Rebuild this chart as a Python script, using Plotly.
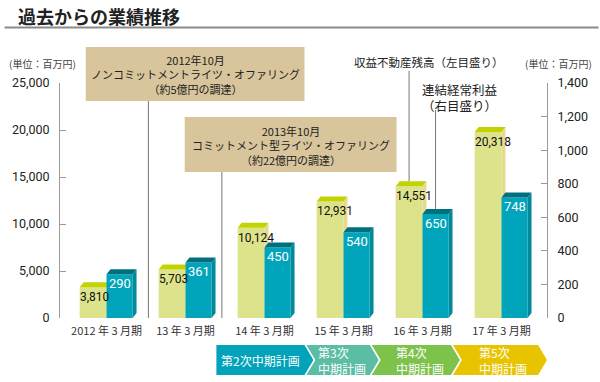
import plotly.graph_objects as go

# ---------------- data ----------------
categories = ["2012 年 3 月期", "13 年 3 月期", "14 年 3 月期", "15 年 3 月期", "16 年 3 月期", "17 年 3 月期"]
real_estate = [3810, 5703, 10124, 12931, 14551, 20318]      # 収益不動産残高 (left axis)
profit = [290, 361, 450, 540, 650, 748]                      # 連結経常利益 (right axis)
left_ticks = [0, 5000, 10000, 15000, 20000, 25000]
right_ticks = [0, 200, 400, 600, 800, 1000, 1200, 1400]
plans = ["第2次中期計画", "第3次<br>中期計画", "第4次<br>中期計画", "第5次<br>中期計画"]
event1 = "2012年10月<br>ノンコミットメントライツ・オファリング<br>（約5億円の調達）"
event2 = "2013年10月<br>コミットメント型ライツ・オファリング<br>（約22億円の調達）"
series1_label = "収益不動産残高（左目盛り）"
series2_label = "連結経常利益<br>（右目盛り）"
title = "過去からの業績推移"
unit = "(単位：百万円)"

# ---------------- layout geometry ----------------
W, H = 600, 382
PL, PR, PT, PB = 56, 548, 83, 318
XR = [-0.589, 5.576]
YMAX_L, YMAX_R = left_ticks[-1], right_ticks[-1]
PXU = (PR - PL) / (XR[1] - XR[0])
DX = 4 / PXU
DYL = 5 * YMAX_L / (PB - PT)
DYR = 5 * YMAX_R / (PB - PT)
Y_OFF, Y_W = -0.17, 0.34
B_OFF, B_W = 0.165, 0.33

CJK = "Noto Sans CJK JP"
NUM = "Liberation Sans Narrow, Roboto, Noto Sans"


def fx(px):
    return (px - PL) / (PR - PL)


def fy(py):
    return (PB - py) / (PB - PT)


Y_FRONT, Y_TOP, Y_SIDE = "#DDE38B", "#C3D300", "#E6DA8C"
B_FRONT, B_TOP, B_SIDE = "#00A5BC", "#00707E", "#008A9B"

fig = go.Figure()
idx = list(range(len(categories)))

# yellow bars (left axis)
fig.add_trace(go.Bar(
    x=[i + Y_OFF for i in idx], y=[v - DYL for v in real_estate], width=Y_W,
    marker=dict(color=Y_FRONT, line=dict(width=0)), yaxis="y", showlegend=False,
    hoverinfo="skip"))
for i, v in zip(idx, real_estate):
    xl, xr = i + Y_OFF - Y_W / 2, i + Y_OFF + Y_W / 2
    f = v - DYL
    fig.add_trace(go.Scatter(x=[xr, xr + DX, xr + DX, xr, xr], y=[0, DYL, v, f, 0],
                             mode="none", fill="toself", fillcolor=Y_SIDE,
                             yaxis="y", showlegend=False, hoverinfo="skip"))
    fig.add_trace(go.Scatter(x=[xl, xl + DX, xr + DX, xr, xl], y=[f, v, v, f, f],
                             mode="none", fill="toself", fillcolor=Y_TOP,
                             yaxis="y", showlegend=False, hoverinfo="skip"))

# blue bars (right axis)
fig.add_trace(go.Bar(
    x=[i + B_OFF for i in idx], y=[v - DYR for v in profit], width=B_W,
    marker=dict(color=B_FRONT, line=dict(width=0)), yaxis="y2", showlegend=False,
    hoverinfo="skip"))
for i, v in zip(idx, profit):
    xl, xr = i + B_OFF - B_W / 2, i + B_OFF + B_W / 2
    f = v - DYR
    fig.add_trace(go.Scatter(x=[xr, xr + DX, xr + DX, xr, xr], y=[0, DYR, v, f, 0],
                             mode="none", fill="toself", fillcolor=B_SIDE,
                             yaxis="y2", showlegend=False, hoverinfo="skip"))
    fig.add_trace(go.Scatter(x=[xl, xl + DX, xr + DX, xr, xl], y=[f, v, v, f, f],
                             mode="none", fill="toself", fillcolor=B_TOP,
                             yaxis="y2", showlegend=False, hoverinfo="skip"))

annotations = []
shapes = []

# value labels
for i, v in zip(idx, real_estate):
    annotations.append(dict(x=i + Y_OFF - Y_W / 2, y=v - DYL, xref="x", yref="y",
                            text=f"{v:,}", showarrow=False, xanchor="left", yanchor="top",
                            xshift=-1, yshift=-2, borderpad=0,
                            font=dict(family=NUM, size=12, color="#111")))
for i, v in zip(idx, profit):
    annotations.append(dict(x=i + B_OFF, y=v - DYR, xref="x", yref="y2",
                            text=f"{v:,}", showarrow=False, xanchor="center", yanchor="top",
                            yshift=-1, borderpad=0,
                            font=dict(family=NUM, size=13, color="#FFFFFF")))

# title and rule
annotations.append(dict(x=fx(12), y=fy(16), xref="paper", yref="paper", text=f"<b>{title}</b>",
                        showarrow=False, xanchor="left", yanchor="middle",
                        font=dict(family=CJK, size=18, color="#222")))
shapes.append(dict(type="line", xref="paper", yref="paper", x0=fx(0), x1=fx(600),
                   y0=fy(27.5), y1=fy(27.5), line=dict(color="#8A8A8A", width=2)))

# unit labels
annotations.append(dict(x=fx(2), y=fy(63), xref="paper", yref="paper", text=unit,
                        showarrow=False, xanchor="left", yanchor="middle",
                        font=dict(family=CJK, size=10, color="#444")))
annotations.append(dict(x=fx(595), y=fy(63), xref="paper", yref="paper", text=unit,
                        showarrow=False, xanchor="right", yanchor="middle",
                        font=dict(family=CJK, size=10, color="#444")))

# event boxes
BOX = "#D8C59C"
shapes.append(dict(type="rect", xref="paper", yref="paper", x0=fx(82), x1=fx(303),
                   y0=fy(101), y1=fy(47), fillcolor=BOX, line=dict(width=0), layer="below"))
annotations.append(dict(x=fx(192.5), y=fy(75), xref="paper", yref="paper", text=event1,
                        showarrow=False, xanchor="center", yanchor="middle",
                        font=dict(family=CJK, size=11, color="#222")))
shapes.append(dict(type="line", xref="x", yref="paper", x0=0.53, x1=0.53,
                   y0=0, y1=fy(101), line=dict(color="#777", width=1)))

shapes.append(dict(type="rect", xref="paper", yref="paper", x0=fx(182), x1=fx(396),
                   y0=fy(172), y1=fy(117), fillcolor=BOX, line=dict(width=0), layer="below"))
annotations.append(dict(x=fx(289), y=fy(145), xref="paper", yref="paper", text=event2,
                        showarrow=False, xanchor="center", yanchor="middle",
                        font=dict(family=CJK, size=11, color="#222")))
shapes.append(dict(type="line", xref="x", yref="paper", x0=1.46, x1=1.46,
                   y0=0, y1=fy(172), line=dict(color="#777", width=1)))

# series labels with leader lines
annotations.append(dict(x=fx(351), y=fy(62), xref="paper", yref="paper", text=series1_label,
                        showarrow=False, xanchor="left", yanchor="middle",
                        font=dict(family=CJK, size=11.5, color="#222")))
xs1 = 4 + Y_OFF
shapes.append(dict(type="line", xref="x", yref="paper", x0=xs1, x1=xs1,
                   y0=real_estate[4] / YMAX_L, y1=fy(71), line=dict(color="#777", width=1)))
annotations.append(dict(x=fx(420), y=fy(97), xref="paper", yref="paper", text=series2_label,
                        showarrow=False, xanchor="left", yanchor="middle", align="left",
                        font=dict(family=CJK, size=12.5, color="#222")))
xs2 = 4 + B_OFF
shapes.append(dict(type="line", xref="x", yref="paper", x0=xs2, x1=xs2,
                   y0=profit[4] / YMAX_R, y1=fy(110), line=dict(color="#777", width=1)))

# plan chevrons
plan_colors = ["#00A3B9", "#5BBDA3", "#7DC24A", "#E8C400"]
segs = [(214, 303, False), (305, 369, True), (371, 451, True), (453, 539, True)]
TOP, BOT, MID, TIP = 345, 375, 360, 9
for (x0, x1, notch), col in zip(segs, plan_colors):
    pts = [(x0, TOP), (x1, TOP), (x1 + TIP, MID), (x1, BOT), (x0, BOT)]
    if notch:
        pts.append((x0 + TIP, MID))
    path = "M " + " L ".join(f"{fx(a):.5f},{fy(b):.5f}" for a, b in pts) + " Z"
    shapes.append(dict(type="path", xref="paper", yref="paper", path=path,
                       fillcolor=col, line=dict(width=0)))
annotations.append(dict(x=fx(259), y=fy(360), xref="paper", yref="paper", text=plans[0],
                        showarrow=False, xanchor="center", yanchor="middle", borderpad=0,
                        font=dict(family=CJK, size=12, color="#FFFFFF")))
for text, xl in zip(plans[1:], [316, 394, 478]):
    annotations.append(dict(x=fx(xl), y=fy(360), xref="paper", yref="paper", text=text,
                            showarrow=False, xanchor="left", yanchor="middle", align="left",
                            borderpad=0,
                            font=dict(family=CJK, size=12, color="#FFFFFF")))

axis_common = dict(showgrid=False, zeroline=False, showline=True, linecolor="#9A9A9A",
                   linewidth=1, ticks="inside", ticklen=6, tickcolor="#9A9A9A",
                   tickformat=",", tickfont=dict(family=NUM, size=12.5, color="#222"),
                   ticklabelstandoff=7)

fig.update_layout(
    width=W, height=H,
    margin=dict(l=PL, r=W - PR, t=PT, b=H - PB, pad=0),
    paper_bgcolor="white", plot_bgcolor="white",
    barmode="overlay", showlegend=False,
    xaxis=dict(range=XR, tickmode="array", tickvals=idx, ticktext=categories,
               showgrid=False, zeroline=False, showline=False, ticks="",
               ticklabelstandoff=5,
               tickfont=dict(family=CJK, size=11, color="#333")),
    yaxis=dict(range=[0, YMAX_L], tickvals=left_ticks, **axis_common),
    yaxis2=dict(range=[0, YMAX_R], tickvals=right_ticks, overlaying="y", side="right",
                **axis_common),
    annotations=annotations, shapes=shapes,
)

fig.write_html("out.html", config={"displayModeBar": False},
               post_script="document.body.style.margin='0';document.body.style.padding='0';")
